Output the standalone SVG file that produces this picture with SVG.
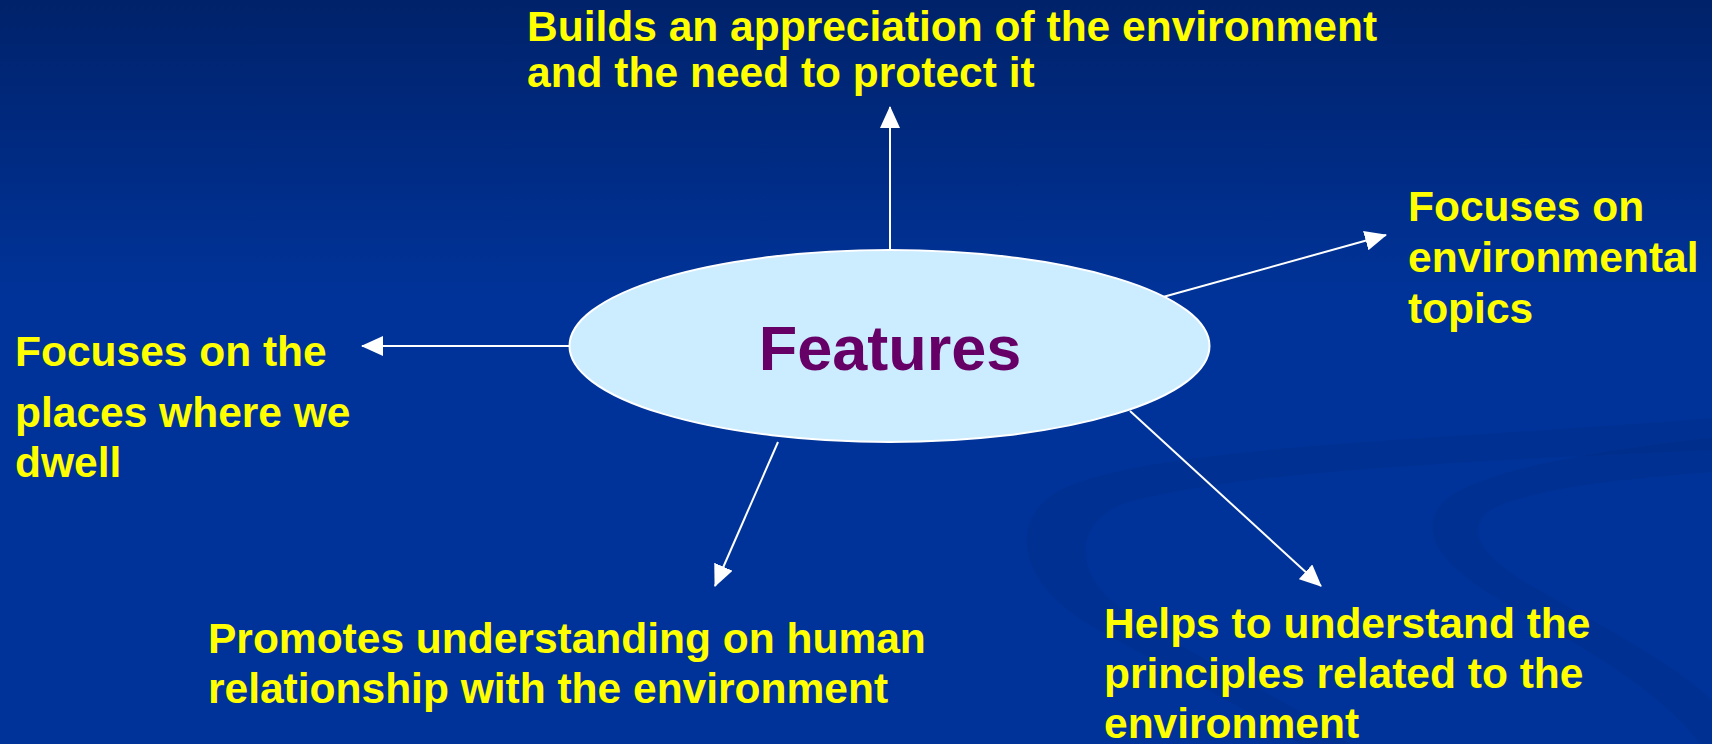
<svg xmlns="http://www.w3.org/2000/svg" width="1712" height="744" viewBox="0 0 1712 744">
  <defs>
    <linearGradient id="bg" x1="0" y1="0" x2="0" y2="1">
      <stop offset="0" stop-color="#00226A"/>
      <stop offset="0.4" stop-color="#003399"/>
      <stop offset="1" stop-color="#003399"/>
    </linearGradient>
    <marker id="arrow" viewBox="0 0 22 20" markerWidth="22" markerHeight="20" markerUnits="userSpaceOnUse" refX="21" refY="10" orient="auto">
      <path d="M0,0 L22,10 L0,20 z" fill="#FFFFFF"/>
    </marker>
    <style>
      .label { font-family: "Liberation Sans", Arial, sans-serif; font-weight: bold; font-size: 42.5px; fill: #FFFF00; }
      .title { font-family: "Liberation Sans", Arial, sans-serif; font-weight: bold; font-size: 63px; fill: #660066; }
      .conn { stroke: #FFFFFF; stroke-width: 2; fill: none; marker-end: url(#arrow); }
      .swirl { fill: #002C85; opacity: 0.4; }
    </style>
  </defs>

  <rect x="0" y="0" width="1712" height="744" fill="url(#bg)"/>

  <g id="background-swirls">
    <path class="swirl" d="M1712,418 C1450,440 1150,445 1060,490 C1005,520 1020,585 1090,625 C1160,665 1250,710 1300,744 L1350,744 C1290,700 1190,655 1130,615 C1070,575 1075,525 1120,505 C1230,470 1500,460 1712,450 Z"/>
    <path class="swirl" d="M1712,438 C1600,450 1480,470 1445,500 C1415,530 1440,565 1500,600 C1580,645 1660,690 1700,744 L1712,744 L1712,700 C1670,660 1590,620 1530,585 C1480,555 1465,530 1490,510 C1540,485 1640,478 1712,472 Z"/>
  </g>

  <g id="connectors">
    <line class="conn" x1="890" y1="249" x2="890" y2="107"/>
    <line class="conn" x1="569" y1="346" x2="362" y2="346"/>
    <line class="conn" x1="1163" y1="297" x2="1386" y2="235"/>
    <line class="conn" x1="1130" y1="411" x2="1321" y2="586"/>
    <line class="conn" x1="778" y1="442" x2="715" y2="586"/>
  </g>

  <g id="node-features">
    <ellipse cx="889.5" cy="346" rx="320" ry="96" fill="#CCECFF" stroke="#FFFFFF" stroke-width="2"/>
    <text class="title" x="890" y="370" text-anchor="middle">Features</text>
  </g>

  <g id="node-appreciation">
    <text class="label" x="527" y="41">Builds an appreciation of the environment</text>
    <text class="label" x="527" y="87">and the need to protect it</text>
  </g>

  <g id="node-topics">
    <text class="label" x="1408" y="221">Focuses on</text>
    <text class="label" x="1408" y="272">environmental</text>
    <text class="label" x="1408" y="323">topics</text>
  </g>

  <g id="node-places">
    <text class="label" x="15" y="366">Focuses on the</text>
    <text class="label" x="15" y="427">places where we</text>
    <text class="label" x="15" y="477">dwell</text>
  </g>

  <g id="node-relationship">
    <text class="label" x="208" y="653">Promotes understanding on human</text>
    <text class="label" x="208" y="703">relationship with the environment</text>
  </g>

  <g id="node-principles">
    <text class="label" x="1104" y="638">Helps to understand the</text>
    <text class="label" x="1104" y="688">principles related to the</text>
    <text class="label" x="1104" y="738">environment</text>
  </g>
</svg>
